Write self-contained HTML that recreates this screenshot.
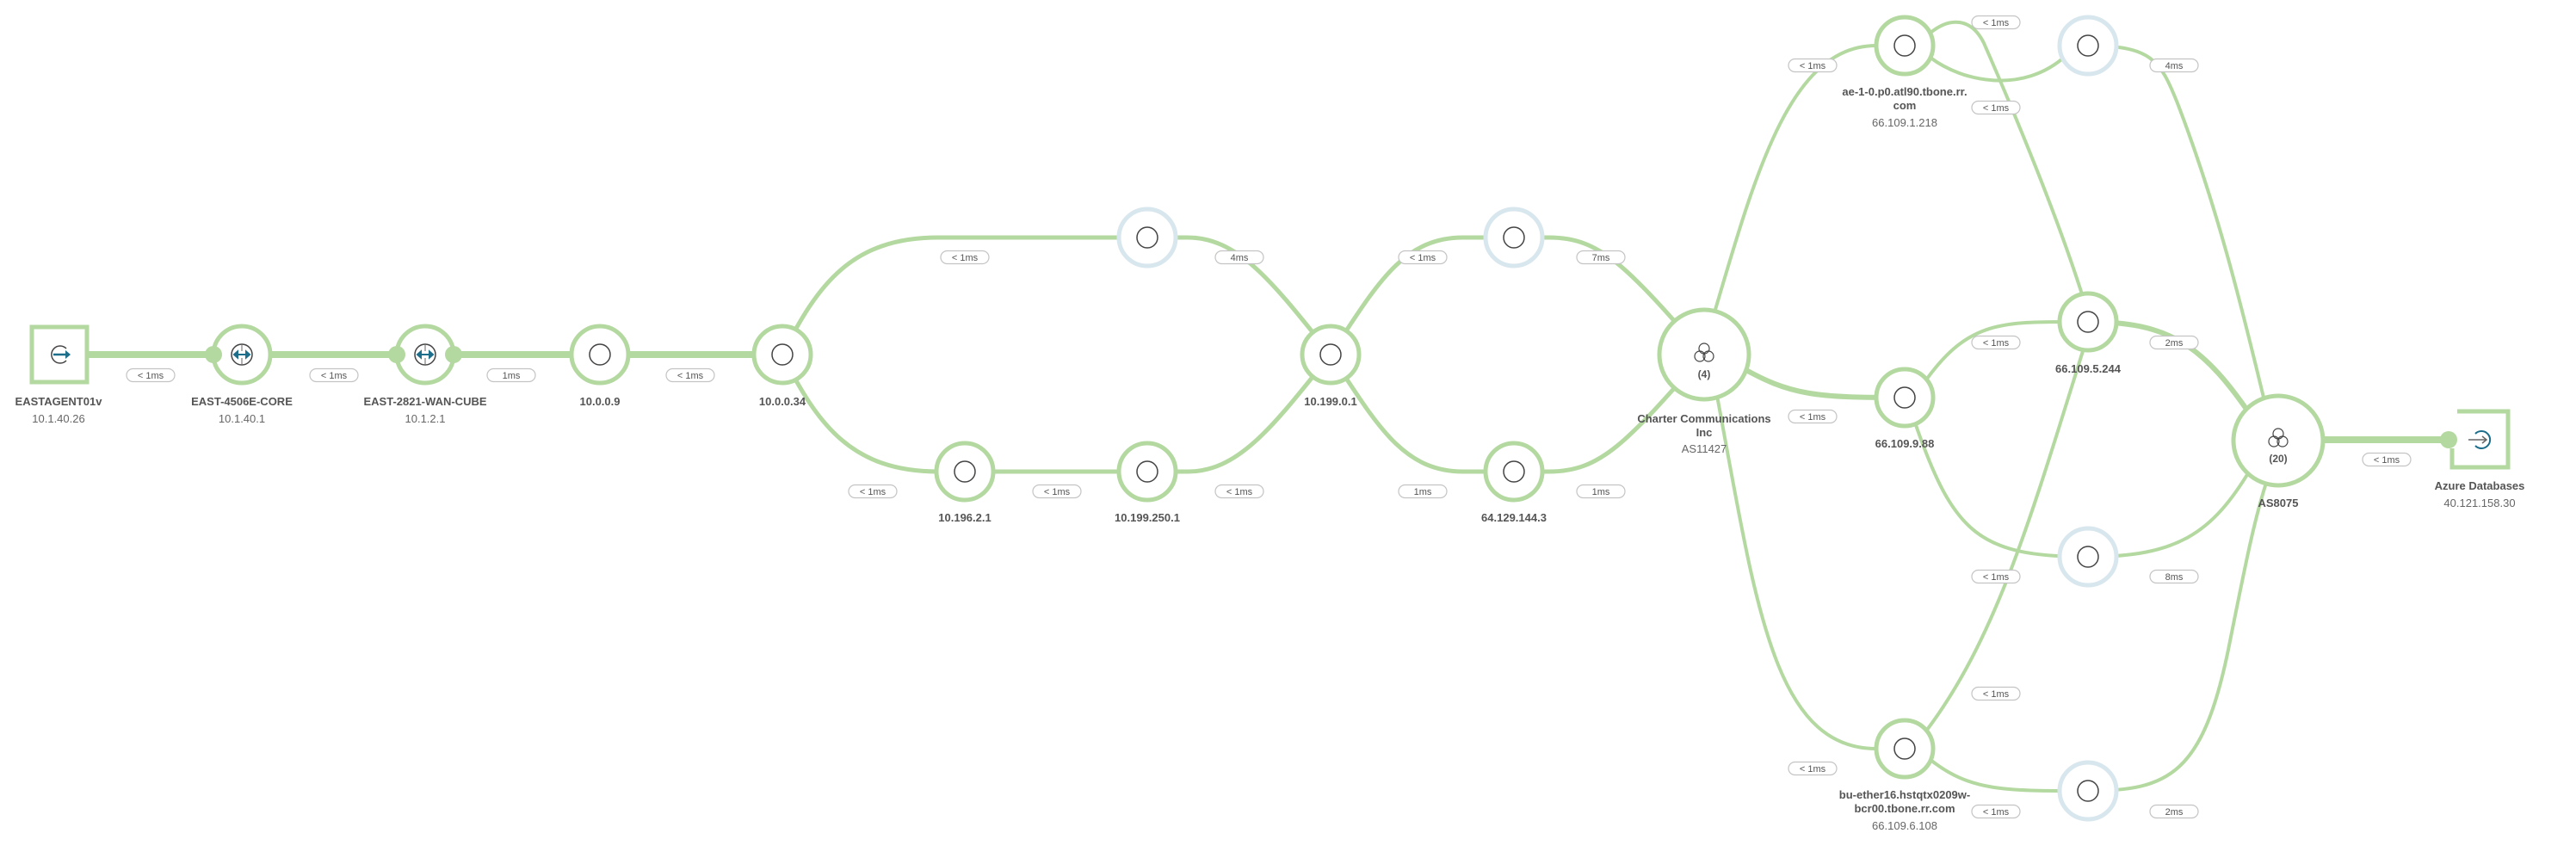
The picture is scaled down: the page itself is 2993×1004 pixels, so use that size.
<!DOCTYPE html>
<html><head><meta charset="utf-8"><style>
html,body{margin:0;padding:0;background:#fff;}
svg{display:block;}
text{font-family:"Liberation Sans",sans-serif;fill:#555;}
.n{font-size:13px;font-weight:bold;text-anchor:middle;}
.ip{font-size:13px;text-anchor:middle;fill:#666;}
.p{font-size:11px;text-anchor:middle;fill:#555;}
.l{fill:none;stroke:#b4d9a0;stroke-width:4;stroke-linecap:round;}
.t{fill:none;stroke:#b4d9a0;stroke-width:8;}
.nd{fill:#fff;stroke:#b4d9a0;stroke-width:5;}
.lb{fill:#fff;stroke:#d8e6ee;stroke-width:5;}
.ic{fill:none;stroke:#444;stroke-width:1.5;}
.pl{fill:#fff;stroke:#c4c4c4;stroke-width:1.2;}
</style></head><body>
<svg width="2993" height="1004" viewBox="0 0 2993 1004" xmlns="http://www.w3.org/2000/svg">
<defs>
<g id="pill"><rect class="pl" x="-28" y="-7.5" width="56" height="15" rx="7.5"/></g>
</defs>
<!-- thick main line -->
<line class="t" x1="102" y1="412" x2="909" y2="412"/>
<line class="t" x1="2647" y1="511" x2="2845" y2="511"/>
<!-- middle section -->
<path class="l" style="stroke-width:5" d="M909 412 C950 330,990 276,1090 276 L1333 276"/>
<path class="l" style="stroke-width:5" d="M909 412 C950 494,990 548,1090 548 L1333 548"/>
<path class="l" style="stroke-width:5" d="M1333 276 L1380 276 C1440 276,1480 330,1546 412"/>
<path class="l" style="stroke-width:5" d="M1333 548 L1380 548 C1440 548,1480 494,1546 412"/>
<path class="l" style="stroke-width:5" d="M1546 412 C1600 330,1630 276,1700 276 L1759 276"/>
<path class="l" style="stroke-width:5" d="M1546 412 C1600 494,1630 548,1700 548 L1759 548"/>
<path class="l" style="stroke-width:5" d="M1759 276 L1800 276 C1860 276,1890 310,1980 412"/>
<path class="l" style="stroke-width:5" d="M1759 548 L1800 548 C1860 548,1890 514,1980 412"/>
<!-- right section -->
<path class="l" d="M1990 370 C2040 200,2080 53,2180 53 L2213 53"/>
<path class="l" style="stroke-width:6" d="M2020 425 C2080 460,2110 462,2213 462"/>
<path class="l" d="M1995 460 C2040 700,2060 870,2180 870 L2213 870"/>
<path class="l" d="M2243 67 C2280 95,2350 110,2400 65"/>
<path class="l" d="M2243 38 C2265 20,2290 20,2305 50 C2340 130,2390 250,2420 345"/>
<path class="l" d="M2426 53 C2500 53,2510 70,2530 120 C2580 250,2610 380,2632 470"/>
<path class="l" d="M2239 440 C2290 370,2330 374,2426 374"/>
<path class="l" style="stroke-width:6" d="M2426 374 C2520 374,2560 400,2620 490"/>
<path class="l" d="M2226 494 C2270 620,2300 647,2426 647"/>
<path class="l" d="M2426 647 C2530 647,2570 620,2615 545"/>
<path class="l" d="M2239 848 C2320 740,2360 600,2420 408"/>
<path class="l" d="M2243 883 C2290 920,2330 919,2426 919"/>
<path class="l" d="M2426 919 C2520 919,2560 900,2590 750 C2610 650,2620 600,2635 555"/>

<!-- agent -->
<rect x="37" y="380" width="64" height="64" fill="#fff" stroke="#b4d9a0" stroke-width="5"/>
<path d="M77 405 A10 10 0 1 0 77 419" fill="none" stroke="#444" stroke-width="1.5"/>
<line x1="62" y1="412" x2="80" y2="412" stroke="#1d6e8a" stroke-width="2.5"/>
<path d="M76 407 L82 412 L76 417Z" fill="#1d6e8a"/>
<text class="n" x="68" y="471">EASTAGENT01v</text>
<text class="ip" x="68" y="491">10.1.40.26</text>

<!-- routers -->
<g transform="translate(281,412)">
<circle class="nd" r="33"/><circle r="10" cx="-33" fill="#b4d9a0"/>
<circle class="ic" r="12"/><path d="M-9 0H9M-9 0l4-3.5v7zM9 0l-4-3.5v7z" stroke="#1d6e8a" stroke-width="2" fill="#1d6e8a"/>
<path d="M0-11V-4M0 11V4" stroke="#666" stroke-width="1"/>
</g>
<text class="n" x="281" y="471">EAST-4506E-CORE</text>
<text class="ip" x="281" y="491">10.1.40.1</text>
<g transform="translate(494,412)">
<circle class="nd" r="33"/><circle r="10" cx="-33" fill="#b4d9a0"/><circle r="10" cx="33" fill="#b4d9a0"/>
<circle class="ic" r="12"/><path d="M-9 0H9M-9 0l4-3.5v7zM9 0l-4-3.5v7z" stroke="#1d6e8a" stroke-width="2" fill="#1d6e8a"/>
<path d="M0-11V-4M0 11V4" stroke="#666" stroke-width="1"/>
</g>
<text class="n" x="494" y="471">EAST-2821-WAN-CUBE</text>
<text class="ip" x="494" y="491">10.1.2.1</text>

<!-- simple nodes -->
<g class="nd"><circle cx="697" cy="412" r="33"/><circle cx="909" cy="412" r="33"/><circle cx="1121" cy="548" r="33"/><circle cx="1333" cy="548" r="33"/><circle cx="1546" cy="412" r="33"/><circle cx="1759" cy="548" r="33"/>
<circle cx="2213" cy="53" r="33"/><circle cx="2426" cy="374" r="33"/><circle cx="2213" cy="462" r="33"/><circle cx="2213" cy="870" r="33"/></g>
<g class="lb"><circle cx="1333" cy="276" r="33"/><circle cx="1759" cy="276" r="33"/><circle cx="2426" cy="53" r="33"/><circle cx="2426" cy="647" r="33"/><circle cx="2426" cy="919" r="33"/></g>
<g class="ic"><circle cx="697" cy="412" r="12"/><circle cx="909" cy="412" r="12"/><circle cx="1121" cy="548" r="12"/><circle cx="1333" cy="548" r="12"/><circle cx="1546" cy="412" r="12"/><circle cx="1759" cy="548" r="12"/>
<circle cx="2213" cy="53" r="12"/><circle cx="2426" cy="374" r="12"/><circle cx="2213" cy="462" r="12"/><circle cx="2213" cy="870" r="12"/>
<circle cx="1333" cy="276" r="12"/><circle cx="1759" cy="276" r="12"/><circle cx="2426" cy="53" r="12"/><circle cx="2426" cy="647" r="12"/><circle cx="2426" cy="919" r="12"/></g>

<!-- AS nodes -->
<circle class="nd" cx="1980" cy="412" r="52"/>
<g class="ic" style="stroke-width:1.2"><circle cx="1980" cy="405" r="6"/><circle cx="1975" cy="414" r="6"/><circle cx="1985" cy="414" r="6"/></g>
<text class="n" x="1980" y="439" style="font-size:12px">(4)</text>
<circle class="nd" cx="2647" cy="512" r="52"/>
<g class="ic" style="stroke-width:1.2"><circle cx="2647" cy="504" r="6"/><circle cx="2642" cy="513" r="6"/><circle cx="2652" cy="513" r="6"/></g>
<text class="n" x="2647" y="537" style="font-size:12px">(20)</text>

<!-- azure -->
<circle cx="2845" cy="511" r="10" fill="#b4d9a0"/>
<path d="M2855 478 H2914 V543 H2849 V521" fill="none" stroke="#b4d9a0" stroke-width="5"/>
<path d="M2876 504 A10 10 0 1 1 2876 518" fill="none" stroke="#1d6e8a" stroke-width="2"/>
<line x1="2868" y1="511" x2="2888" y2="511" stroke="#666" stroke-width="1.5"/>
<path d="M2884 507 L2889 511 L2884 515" fill="none" stroke="#666" stroke-width="1.5"/>
<text class="n" x="2881" y="569">Azure Databases</text>
<text class="ip" x="2881" y="589">40.121.158.30</text>

<!-- labels -->
<text class="n" x="697" y="471">10.0.0.9</text>
<text class="n" x="909" y="471">10.0.0.34</text>
<text class="n" x="1546" y="471">10.199.0.1</text>
<text class="n" x="1121" y="606">10.196.2.1</text>
<text class="n" x="1333" y="606">10.199.250.1</text>
<text class="n" x="1759" y="606">64.129.144.3</text>
<text class="n" x="1980" y="491">Charter Communications</text>
<text class="n" x="1980" y="507">Inc</text>
<text class="ip" x="1980" y="526">AS11427</text>
<text class="n" x="2213" y="111">ae-1-0.p0.atl90.tbone.rr.</text>
<text class="n" x="2213" y="127">com</text>
<text class="ip" x="2213" y="147">66.109.1.218</text>
<text class="n" x="2426" y="433">66.109.5.244</text>
<text class="n" x="2213" y="520">66.109.9.88</text>
<text class="n" x="2647" y="589">AS8075</text>
<text class="n" x="2213" y="928">bu-ether16.hstqtx0209w-</text>
<text class="n" x="2213" y="944">bcr00.tbone.rr.com</text>
<text class="ip" x="2213" y="964">66.109.6.108</text>

<!-- pills -->
<g>
<use href="#pill" x="175" y="436"/><text class="p" x="175" y="440">&lt; 1ms</text>
<use href="#pill" x="388" y="436"/><text class="p" x="388" y="440">&lt; 1ms</text>
<use href="#pill" x="594" y="436"/><text class="p" x="594" y="440">1ms</text>
<use href="#pill" x="802" y="436"/><text class="p" x="802" y="440">&lt; 1ms</text>
<use href="#pill" x="1121" y="299"/><text class="p" x="1121" y="303">&lt; 1ms</text>
<use href="#pill" x="1440" y="299"/><text class="p" x="1440" y="303">4ms</text>
<use href="#pill" x="1653" y="299"/><text class="p" x="1653" y="303">&lt; 1ms</text>
<use href="#pill" x="1860" y="299"/><text class="p" x="1860" y="303">7ms</text>
<use href="#pill" x="1014" y="571"/><text class="p" x="1014" y="575">&lt; 1ms</text>
<use href="#pill" x="1228" y="571"/><text class="p" x="1228" y="575">&lt; 1ms</text>
<use href="#pill" x="1440" y="571"/><text class="p" x="1440" y="575">&lt; 1ms</text>
<use href="#pill" x="1653" y="571"/><text class="p" x="1653" y="575">1ms</text>
<use href="#pill" x="1860" y="571"/><text class="p" x="1860" y="575">1ms</text>
<use href="#pill" x="2106" y="76"/><text class="p" x="2106" y="80">&lt; 1ms</text>
<use href="#pill" x="2319" y="26"/><text class="p" x="2319" y="30">&lt; 1ms</text>
<use href="#pill" x="2319" y="125"/><text class="p" x="2319" y="129">&lt; 1ms</text>
<use href="#pill" x="2526" y="76"/><text class="p" x="2526" y="80">4ms</text>
<use href="#pill" x="2319" y="398"/><text class="p" x="2319" y="402">&lt; 1ms</text>
<use href="#pill" x="2526" y="398"/><text class="p" x="2526" y="402">2ms</text>
<use href="#pill" x="2106" y="484"/><text class="p" x="2106" y="488">&lt; 1ms</text>
<use href="#pill" x="2773" y="534"/><text class="p" x="2773" y="538">&lt; 1ms</text>
<use href="#pill" x="2319" y="670"/><text class="p" x="2319" y="674">&lt; 1ms</text>
<use href="#pill" x="2526" y="670"/><text class="p" x="2526" y="674">8ms</text>
<use href="#pill" x="2319" y="806"/><text class="p" x="2319" y="810">&lt; 1ms</text>
<use href="#pill" x="2106" y="893"/><text class="p" x="2106" y="897">&lt; 1ms</text>
<use href="#pill" x="2319" y="943"/><text class="p" x="2319" y="947">&lt; 1ms</text>
<use href="#pill" x="2526" y="943"/><text class="p" x="2526" y="947">2ms</text>
</g>
</svg>
</body></html>
